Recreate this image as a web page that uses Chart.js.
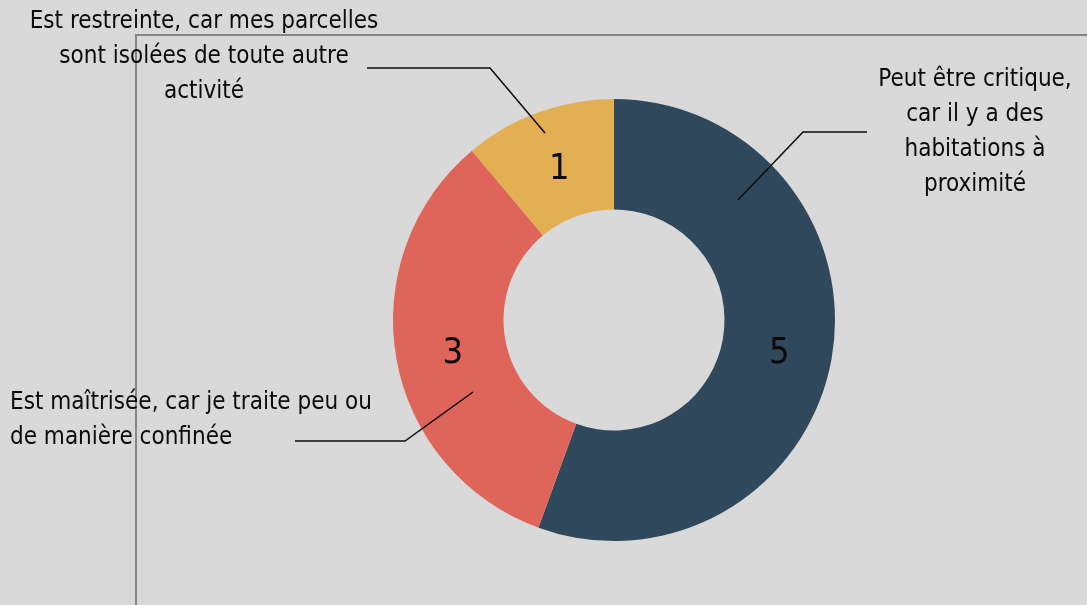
<!DOCTYPE html>
<html>
<head>
<meta charset="utf-8">
<script src="https://cdn.jsdelivr.net/npm/chart.js@4.4.1/dist/chart.umd.min.js"></script>
<style>
  html, body { margin: 0; padding: 0; background: #d9d9d9; }
  #wrap { width: 1087px; height: 605px; position: relative; }
</style>
</head>
<body>
<div id="wrap"><canvas id="chart"></canvas></div>
<script>
const categories = [
  'Peut être critique, car il y a des habitations à proximité',
  'Est maîtrisée, car je traite peu ou de manière confinée',
  'Est restreinte, car mes parcelles sont isolées de toute autre activité'
];
const counts = [5, 3, 1];
const colors = ['#30485c', '#df6459', '#e2b052'];

// wrapped label lines, as shown in the picture
const labelLines = [
  ['Peut être critique,', 'car il y a des', 'habitations à', 'proximité'],
  ['Est maîtrisée, car je traite peu ou', 'de manière confinée'],
  ['Est restreinte, car mes parcelles', 'sont isolées de toute autre', 'activité']
];

// callout layout: text anchor, alignment, elbow line (start, knee, end on slice)
const callouts = [
  { x: 975, y: 80, align: 'center', line: [[867, 132], [803, 132], [738, 200]] },
  { x: 10, y: 403, align: 'left', line: [[295, 441], [405, 441], [473, 392]] },
  { x: 204, y: 22, align: 'center', line: [[367, 68], [490, 68], [545, 133]] }
];

const FONT = '"Liberation Sans Narrow", "Arial Narrow", "DejaVu Sans Condensed", sans-serif';

const decorations = {
  id: 'decorations',
  beforeDraw(chart) {
    const ctx = chart.ctx;
    ctx.save();
    ctx.strokeStyle = '#858585';
    ctx.lineWidth = 2;
    ctx.beginPath();
    ctx.moveTo(136, 605);
    ctx.lineTo(136, 35);
    ctx.lineTo(1087, 35);
    ctx.stroke();
    ctx.restore();
  },
  afterDraw(chart) {
    const ctx = chart.ctx;
    const arcs = chart.getDatasetMeta(0).data;
    ctx.save();
    ctx.fillStyle = '#0a0a0a';
    ctx.textBaseline = 'middle';
    ctx.textAlign = 'center';
    ctx.font = `36px ${FONT}`;
    arcs.forEach((arc, i) => {
      const p = arc.tooltipPosition();
      ctx.fillText(String(counts[i]), p.x + 2, p.y + 5);
    });

    ctx.font = `24px ${FONT}`;
    callouts.forEach((c, i) => {
      ctx.textAlign = c.align;
      labelLines[i].forEach((line, j) => ctx.fillText(line, c.x, c.y + j * 35));
      ctx.strokeStyle = '#0a0a0a';
      ctx.lineWidth = 1.5;
      ctx.beginPath();
      c.line.forEach(([x, y], k) => k ? ctx.lineTo(x, y) : ctx.moveTo(x, y));
      ctx.stroke();
    });
    ctx.restore();
  }
};

new Chart(document.getElementById('chart'), {
  type: 'doughnut',
  data: {
    labels: categories,
    datasets: [{ data: counts, backgroundColor: colors, borderWidth: 0 }]
  },
  options: {
    responsive: true,
    maintainAspectRatio: false,
    animation: false,
    cutout: '50%',
    layout: { padding: { left: 393, right: 252, top: 99, bottom: 64 } },
    plugins: { legend: { display: false }, tooltip: { enabled: false } }
  },
  plugins: [decorations]
});
</script>
</body>
</html>
